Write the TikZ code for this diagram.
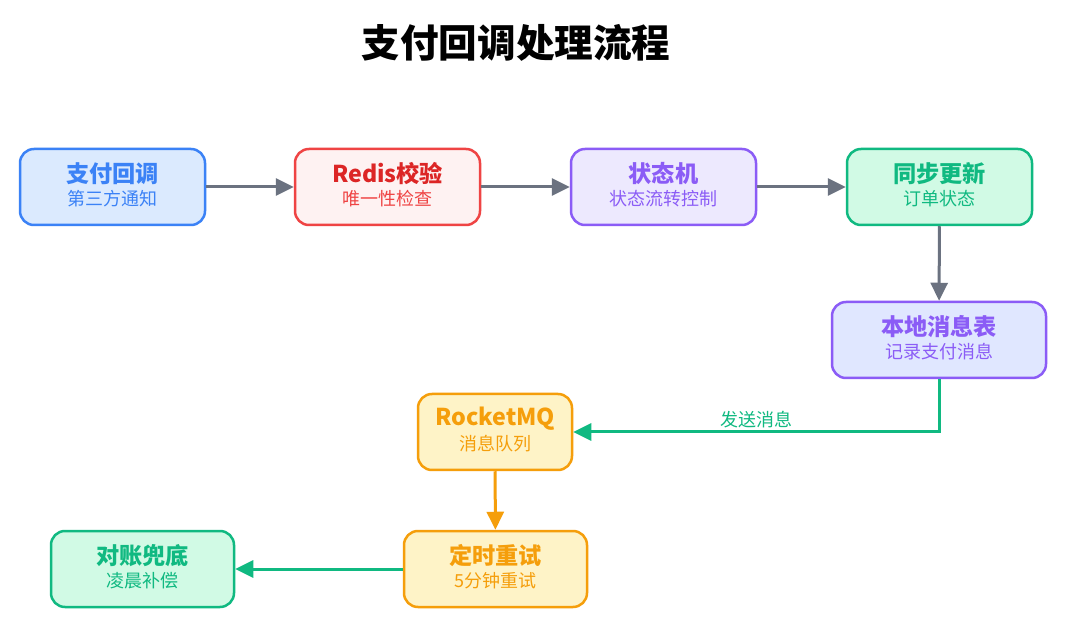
\documentclass[tikz,border=0pt]{standalone}
\usepackage{fontspec}
\setmainfont{Noto Sans CJK SC}
\usetikzlibrary{arrows.meta}
\definecolor{bluebd}{HTML}{3B82F6}
\definecolor{bluefl}{HTML}{DBEAFE}
\definecolor{bluetx}{HTML}{3B82F6}
\definecolor{redbd}{HTML}{EF4444}
\definecolor{redfl}{HTML}{FEF2F2}
\definecolor{redtx}{HTML}{DC2626}
\definecolor{purbd}{HTML}{8B5CF6}
\definecolor{purfl}{HTML}{EDE9FE}
\definecolor{purtx}{HTML}{8B5CF6}
\definecolor{indfl}{HTML}{E0E7FF}
\definecolor{grnbd}{HTML}{10B981}
\definecolor{grnfl}{HTML}{D1FAE5}
\definecolor{grntx}{HTML}{10B981}
\definecolor{orgbd}{HTML}{F59E0B}
\definecolor{orgfl}{HTML}{FEF3C7}
\definecolor{orgtx}{HTML}{F59E0B}
\definecolor{arrgray}{HTML}{6B7280}
\begin{document}
\begin{tikzpicture}[x=1pt,y=-1pt,
  box/.style={draw, line width=2.5pt, rounded corners=14pt, minimum height=76pt, inner sep=0pt},
  ttl/.style={font=\fontsize{23.2}{27}\selectfont\bfseries},
  sub/.style={font=\fontsize{18}{21}\selectfont},
  conn/.style={line width=3pt, -{Triangle[length=18pt,width=17pt]}},
]
\useasboundingbox (0,0) rectangle (1080,636);
\fill[white] (0,0) rectangle (1080,636);

\node[font=\fontsize{38.6}{42}\selectfont\bfseries] (title) at (516,43) {支付回调处理流程};

\node[box, draw=bluebd, fill=bluefl, minimum width=185pt] (b1) at (112.5,187) {};
\node[box, draw=redbd, fill=redfl, minimum width=185pt] (b2) at (387.5,187) {};
\node[box, draw=purbd, fill=purfl, minimum width=185pt] (b3) at (663.5,187) {};
\node[box, draw=grnbd, fill=grnfl, minimum width=185pt] (b4) at (939.5,187) {};
\node[box, draw=purbd, fill=indfl, minimum width=214pt] (b5) at (939,340) {};
\node[box, draw=orgbd, fill=orgfl, minimum width=154pt] (b6) at (495,432) {};
\node[box, draw=orgbd, fill=orgfl, minimum width=183pt] (b7) at (495.5,569) {};
\node[box, draw=grnbd, fill=grnfl, minimum width=183pt] (b8) at (142.5,569) {};

\node[ttl, text=bluetx] (t1) at ([yshift=13pt]b1.center) {支付回调};
\node[sub, text=bluetx] (s1) at ([yshift=-12pt]b1.center) {第三方通知};
\node[ttl, text=redtx] (t2) at ([yshift=13pt]b2.center) {Redis校验};
\node[sub, text=redbd] (s2) at ([yshift=-12pt]b2.center) {唯一性检查};
\node[ttl, text=purtx] (t3) at ([yshift=13pt]b3.center) {状态机};
\node[sub, text=purtx] (s3) at ([yshift=-12pt]b3.center) {状态流转控制};
\node[ttl, text=grntx] (t4) at ([yshift=13pt]b4.center) {同步更新};
\node[sub, text=grntx] (s4) at ([yshift=-12pt]b4.center) {订单状态};
\node[ttl, text=purtx] (t5) at ([yshift=13pt]b5.center) {本地消息表};
\node[sub, text=purtx] (s5) at ([yshift=-12pt]b5.center) {记录支付消息};
\node[ttl, text=orgtx] (t6) at ([yshift=13pt]b6.center) {RocketMQ};
\node[sub, text=orgtx] (s6) at ([yshift=-12pt]b6.center) {消息队列};
\node[ttl, text=orgtx] (t7) at ([yshift=13pt]b7.center) {定时重试};
\node[sub, text=orgtx] (s7) at ([yshift=-12pt]b7.center) {5分钟重试};
\node[ttl, text=grntx] (t8) at ([yshift=13pt]b8.center) {对账兜底};
\node[sub, text=grntx] (s8) at ([yshift=-12pt]b8.center) {凌晨补偿};

\draw[conn, draw=arrgray] (b1) -- (b2);
\draw[conn, draw=arrgray] (b2) -- (b3);
\draw[conn, draw=arrgray] (b3) -- (b4);
\draw[conn, draw=arrgray] (b4) -- (b5);
\draw[conn, draw=grnbd] (b5.south) |- (b6.east)
  node[pos=0.75, above=-1pt, sub, text=grntx] (lbl) {发送消息};
\draw[conn, draw=orgbd] (b6) -- (b7);
\draw[conn, draw=grnbd] (b7) -- (b8);
\end{tikzpicture}
\end{document}
